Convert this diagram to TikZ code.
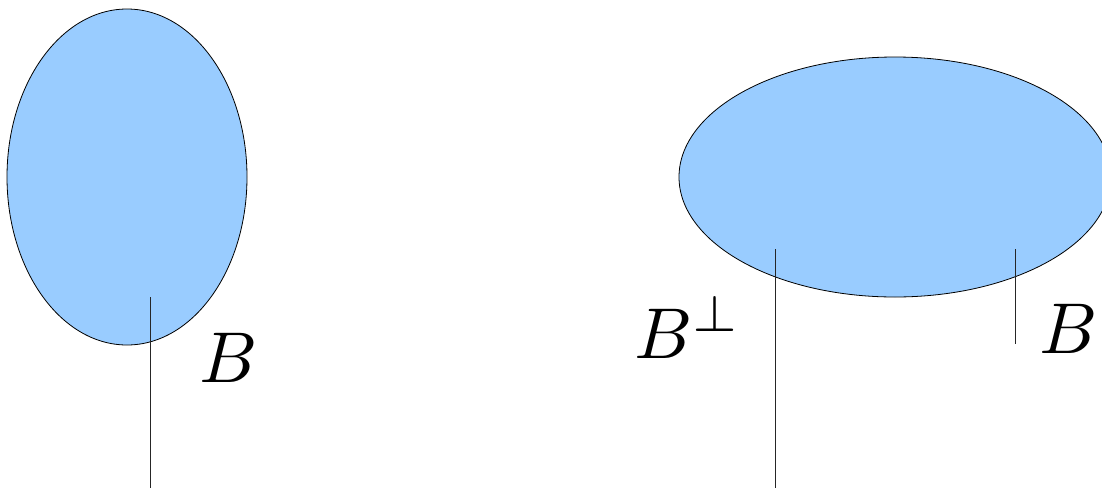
\documentclass[tikz,border=0pt]{standalone}
\usepackage{graphicx}
\usetikzlibrary{shapes.geometric}
\definecolor{blobblue}{HTML}{99CCFF}
\newcommand{\biglbl}[1]{\scalebox{7.2}{#1}}
\begin{document}
\begin{tikzpicture}[x=1pt,y=-1pt,
  blob/.style={ellipse, draw=black, fill=blobblue, line width=0.8pt, inner sep=0pt},
  lead/.style={draw=black!85, line width=0.9pt},
  lbl/.style={inner sep=0pt, anchor=base west}]
\useasboundingbox (0,0) rectangle (1102,488);
\node[blob, minimum width=240pt, minimum height=336pt] (left) at (127,177) {};
\node[blob, minimum width=432pt, minimum height=240pt] (right) at (895,177) {};
\coordinate (atop) at (150,297);
\coordinate (abot) at (150,488);
\coordinate (btop) at (775,249);
\coordinate (bbot) at (775,488);
\coordinate (ctop) at (1015,249);
\coordinate (cbot) at (1015,344);
\draw[lead] (atop) -- (abot);
\draw[lead] (btop) -- (bbot);
\draw[lead] (ctop) -- (cbot);
\node[lbl] (lB) at (199,382) {\biglbl{$B$}};
\node[lbl] (rBp) at (634,358) {\biglbl{$B^{\perp}$}};
\node[lbl] (rB) at (1039,353) {\biglbl{$B$}};
\end{tikzpicture}
\end{document}
